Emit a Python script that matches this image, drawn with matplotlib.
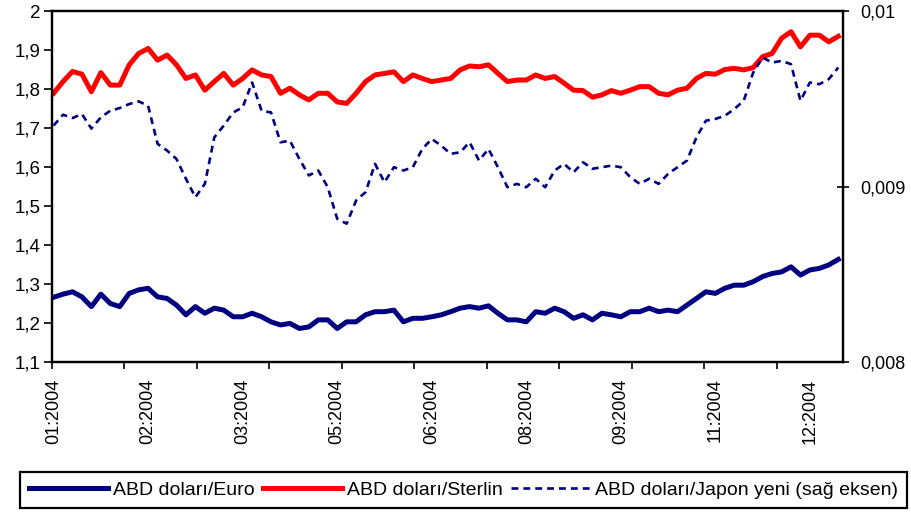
import numpy as np
import matplotlib
matplotlib.use("Agg")
import matplotlib.pyplot as plt
from matplotlib.ticker import FixedLocator, FuncFormatter

# ---- data (one sample every 3 trading days) ----
n_days = 251
day_index = np.arange(0, 250, 3)

euro = [1.266, 1.274, 1.280, 1.267, 1.242, 1.274, 1.250, 1.242, 1.276, 1.285,
        1.289, 1.267, 1.263, 1.246, 1.221, 1.242, 1.225, 1.238, 1.233, 1.216,
        1.216, 1.225, 1.216, 1.203, 1.195, 1.199, 1.186, 1.190, 1.208, 1.208,
        1.186, 1.203, 1.203, 1.221, 1.229, 1.229, 1.233, 1.203, 1.212, 1.212,
        1.216, 1.221, 1.229, 1.238, 1.242, 1.238, 1.244, 1.225, 1.208, 1.208,
        1.203, 1.229, 1.225, 1.238, 1.229, 1.212, 1.221, 1.208, 1.225, 1.221,
        1.216, 1.229, 1.229, 1.238, 1.229, 1.233, 1.229, 1.246, 1.263, 1.280,
        1.276, 1.289, 1.297, 1.297, 1.306, 1.319, 1.327, 1.331, 1.344, 1.323,
        1.336, 1.340, 1.349, 1.363]

sterling = [1.789, 1.819, 1.845, 1.838, 1.793, 1.842, 1.810, 1.810, 1.862, 1.891,
            1.904, 1.874, 1.887, 1.862, 1.827, 1.836, 1.797, 1.819, 1.840, 1.810,
            1.827, 1.849, 1.836, 1.832, 1.789, 1.802, 1.785, 1.772, 1.789, 1.789,
            1.767, 1.763, 1.789, 1.819, 1.836, 1.840, 1.844, 1.819, 1.836, 1.827,
            1.819, 1.823, 1.827, 1.849, 1.859, 1.857, 1.862, 1.840, 1.819, 1.823,
            1.823, 1.836, 1.827, 1.832, 1.815, 1.797, 1.796, 1.779, 1.785, 1.796,
            1.789, 1.797, 1.806, 1.806, 1.789, 1.785, 1.797, 1.802, 1.827, 1.840,
            1.838, 1.850, 1.853, 1.849, 1.855, 1.883, 1.891, 1.930, 1.947, 1.908,
            1.938, 1.938, 1.921, 1.935]

yen = [0.009347, 0.009409, 0.009390, 0.009413, 0.009330, 0.009394, 0.009432, 0.009447,
       0.009470, 0.009485, 0.009460, 0.009243, 0.009205, 0.009157, 0.009044, 0.008939,
       0.009015, 0.009280, 0.009347, 0.009422, 0.009451, 0.009593, 0.009432, 0.009422,
       0.009252, 0.009261, 0.009157, 0.009063, 0.009091, 0.008996, 0.008816, 0.008788,
       0.008920, 0.008968, 0.009129, 0.009024, 0.009110, 0.009091, 0.009110, 0.009214,
       0.009271, 0.009233, 0.009186, 0.009195, 0.009252, 0.009148, 0.009214, 0.009110,
       0.008996, 0.009015, 0.008996, 0.009044, 0.008996, 0.009091, 0.009129, 0.009081,
       0.009138, 0.009101, 0.009110, 0.009119, 0.009110, 0.009053, 0.009015, 0.009044,
       0.009015, 0.009072, 0.009110, 0.009148, 0.009280, 0.009375, 0.009385, 0.009403,
       0.009441, 0.009489, 0.009649, 0.009735, 0.009706, 0.009716, 0.009697, 0.009489,
       0.009593, 0.009583, 0.009612, 0.009678]

month_labels = ["01:2004", "02:2004", "03:2004", "05:2004", "06:2004",
                "08:2004", "09:2004", "11:2004", "12:2004"]
left_ticks = [1.1, 1.2, 1.3, 1.4, 1.5, 1.6, 1.7, 1.8, 1.9, 2.0]
right_ticks = [0.008, 0.009, 0.010]

series_names = ["ABD doları/Euro", "ABD doları/Sterlin",
                "ABD doları/Japon yeni (sağ eksen)"]

# ---- styling ----
plt.rcParams['font.family'] = ['Liberation Sans', 'DejaVu Sans']
FS = 13
NAVY = "#000080"
RED = "#FF0000"

fig = plt.figure(figsize=(9.11, 5.14), dpi=100)
ax = fig.add_axes([52 / 911, 1 - 362 / 514, (843 - 52) / 911, (362 - 11) / 514])
ax2 = ax.twinx()

l1, = ax.plot(day_index, euro, color=NAVY, lw=3.6, solid_joinstyle='round')
l2, = ax.plot(day_index, sterling, color=RED, lw=3.6, solid_joinstyle='round')
l3, = ax2.plot(day_index, yen, color=NAVY, lw=1.9, linestyle=(0, (2.6, 1.9)))

ax.set_xlim(-0.5, n_days - 0.5)
ax.set_ylim(1.1, 2.0)
ax2.set_ylim(0.008, 0.010)

def comma(v, pos=None, nd=1):
    s = f"{v:.{nd}f}".rstrip('0').rstrip('.')
    return s.replace('.', ',')

ax.yaxis.set_major_locator(FixedLocator(left_ticks))
ax.yaxis.set_major_formatter(FuncFormatter(lambda v, p: comma(v, p, 1)))
ax2.yaxis.set_major_locator(FixedLocator(right_ticks))
ax2.yaxis.set_major_formatter(FuncFormatter(lambda v, p: comma(v, p, 3)))

label_pos = np.arange(len(month_labels)) * 30
ax.set_xticks(label_pos)
ax.set_xticklabels(month_labels, rotation=90, fontsize=FS)
ax.xaxis.set_minor_locator(FixedLocator(np.arange(0, n_days, 23) - 0.5))
ax.tick_params(axis='x', which='major', length=0, pad=12)
ax.tick_params(axis='x', which='minor', length=5, width=1.2, direction='out')
ax.tick_params(axis='y', which='major', length=6, width=1.2, direction='out',
               labelsize=FS + 0.5, pad=2)
ax2.tick_params(axis='y', which='major', length=9, width=1.2, direction='inout',
                labelsize=FS, pad=8)

for a in (ax, ax2):
    for s in a.spines.values():
        s.set_linewidth(1.6)
        s.set_color('black')

leg = fig.legend([l1, l2, l3], series_names, loc='center',
                 bbox_to_anchor=(22 / 911, 2 / 514, (905 - 22) / 911, 44 / 514),
                 ncol=3, frameon=True, fancybox=False, edgecolor='black',
                 framealpha=1, fontsize=14, handlelength=4.1, handletextpad=0.25,
                 columnspacing=0.4, borderpad=0.45, borderaxespad=0)
leg.get_frame().set_linewidth(1.6)

fig.savefig("out.png", dpi=100)
